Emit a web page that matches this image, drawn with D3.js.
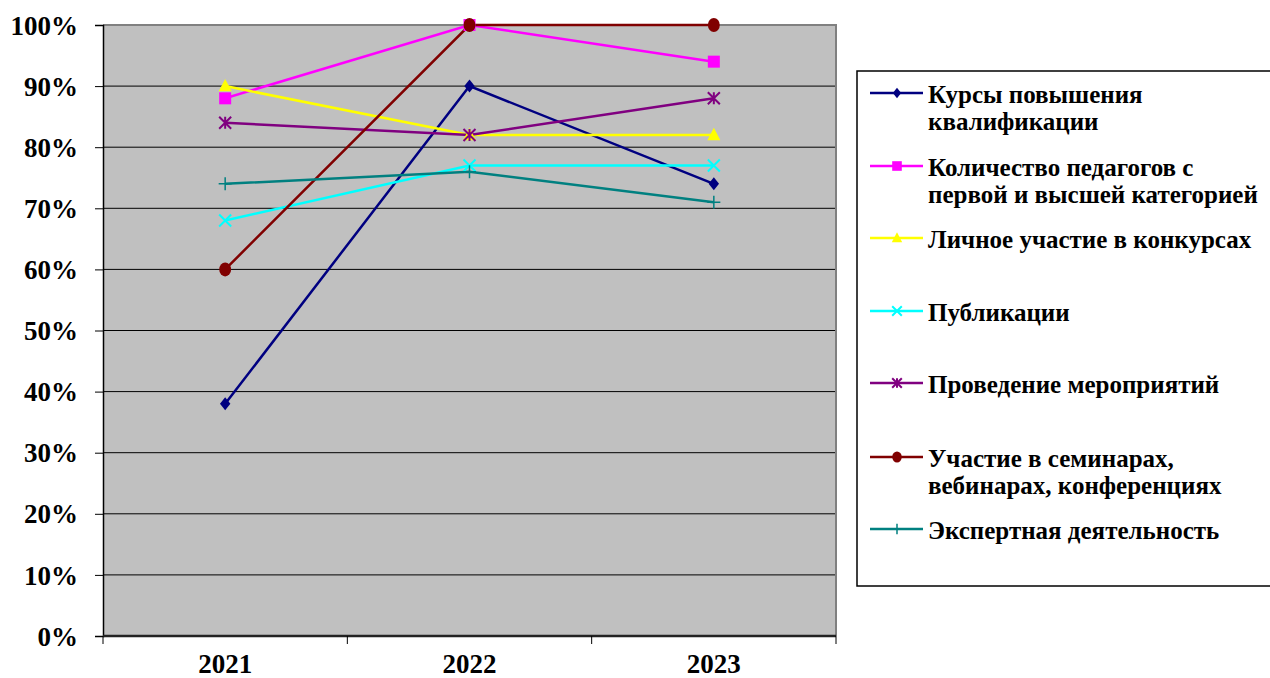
<!DOCTYPE html>
<html><head><meta charset="utf-8">
<script src="https://cdn.jsdelivr.net/npm/d3@7"></script>
</head><body style="margin:0;background:#fff">
<svg id="c" width="1270" height="678" style="display:block;font-family:'Liberation Serif'"></svg>
<script>
const categories = ["2021", "2022", "2023"];
const seriesNames = [
  "Курсы повышения квалификации",
  "Количество педагогов с первой и высшей категорией",
  "Личное участие в конкурсах",
  "Публикации",
  "Проведение мероприятий",
  "Участие в семинарах, вебинарах, конференциях",
  "Экспертная деятельность"
];
const kursy = [38, 90, 74];
const kolichestvo = [88, 100, 94];
const lichnoe = [90, 82, 82];
const publikacii = [68, 77, 77];
const provedenie = [84, 82, 88];
const uchastie = [60, 100, 100];
const ekspert = [74, 76, 71];
const yTicks = [0, 10, 20, 30, 40, 50, 60, 70, 80, 90, 100];
const legendLines = [
  ["Курсы повышения", "квалификации"],
  ["Количество педагогов с", "первой и высшей категорией"],
  ["Личное участие в конкурсах"],
  ["Публикации"],
  ["Проведение мероприятий"],
  ["Участие в семинарах,", "вебинарах, конференциях"],
  ["Экспертная деятельность"]
];
const colors = ["#000080", "#FF00FF", "#FFFF00", "#00FFFF", "#800080", "#800000", "#008080"];
const markers = ["diamond", "square", "triangle", "x", "asterisk", "circle", "plus"];
const values = [kursy, kolichestvo, lichnoe, publikacii, provedenie, uchastie, ekspert];

const svg = d3.select("#c");
const L = 103, R = 836, T = 25, B = 636;
const x = d3.scaleBand().domain(categories).range([L, R]);
const y = d3.scaleLinear().domain([0, 100]).range([B, T]);
function serif(sel, size) {
  sel.attr("font-family", "Liberation Serif").style("font-family", '"Liberation Serif"').style("font-weight", "bold").style("font-size", size + "px").style("fill", "#000");
}

svg.append("rect").attr("x", L).attr("y", T).attr("width", R - L).attr("height", B - T).attr("fill", "#C0C0C0");
svg.append("g").selectAll("line").data(yTicks.filter(d => d > 0 && d < 100)).join("line")
  .attr("x1", L).attr("x2", R).attr("y1", d => y(d)).attr("y2", d => y(d))
  .attr("stroke", "#000").attr("stroke-width", 1);
svg.append("path").attr("d", `M${L},${T}H${R}V${B}`).attr("fill", "none").attr("stroke", "#808080").attr("stroke-width", 2);

const yAxis = d3.axisLeft(y).tickValues(yTicks).tickFormat(d => d + "%").tickSize(8).tickPadding(17);
const gy = svg.append("g").attr("transform", `translate(${L},0)`).call(yAxis).attr("font-family", "Liberation Serif");
gy.select(".domain").attr("stroke", "#000").attr("stroke-width", 1.5);
gy.selectAll(".tick line").attr("stroke", "#000");
gy.selectAll("text").call(serif, 27).attr("dy", "0.34em");

const xAxis = d3.axisBottom(x).tickSize(0).tickPadding(0);
const gx = svg.append("g").attr("transform", `translate(0,${B})`).call(xAxis).attr("font-family", "Liberation Serif");
gx.select(".domain").remove();
gx.selectAll(".tick text").call(serif, 27).attr("dy", null).attr("y", 37);
svg.append("line").attr("x1", L).attr("x2", R).attr("y1", B).attr("y2", B).attr("stroke", "#222").attr("stroke-width", 2.5);
const bounds = [L].concat(categories.map(c => x(c) + x.bandwidth()));
svg.append("g").selectAll("line").data(bounds).join("line")
  .attr("x1", d => d).attr("x2", d => d).attr("y1", B).attr("y2", B + 8).attr("stroke", "#000");

function drawMarker(g, type, color, cx, cy, s) {
  if (type === "diamond") {
    g.append("path").attr("d", `M${cx},${cy - s}L${cx + s * 0.8},${cy}L${cx},${cy + s}L${cx - s * 0.8},${cy}Z`).attr("fill", color);
  } else if (type === "square") {
    g.append("rect").attr("x", cx - s).attr("y", cy - s).attr("width", 2 * s).attr("height", 2 * s).attr("fill", color);
  } else if (type === "triangle") {
    g.append("path").attr("d", `M${cx},${cy - s * 1.1}L${cx + s},${cy + s * 0.8}L${cx - s},${cy + s * 0.8}Z`).attr("fill", color);
  } else if (type === "x") {
    g.append("path").attr("d", `M${cx - s},${cy - s}L${cx + s},${cy + s}M${cx - s},${cy + s}L${cx + s},${cy - s}`).attr("stroke", color).attr("stroke-width", 2);
  } else if (type === "asterisk") {
    g.append("path").attr("d", `M${cx - s},${cy - s}L${cx + s},${cy + s}M${cx - s},${cy + s}L${cx + s},${cy - s}M${cx},${cy - s}L${cx},${cy + s}`).attr("stroke", color).attr("stroke-width", 2);
  } else if (type === "circle") {
    g.append("ellipse").attr("cx", cx).attr("cy", cy).attr("rx", s * 0.85).attr("ry", s).attr("fill", color);
  } else if (type === "plus") {
    g.append("path").attr("d", `M${cx - s},${cy}L${cx + s},${cy}M${cx},${cy - s}L${cx},${cy + s}`).attr("stroke", color).attr("stroke-width", 1.5);
  }
}
const msize = [6.5, 6, 6.5, 6, 6, 7, 6.5];
const cx = c => x(c) + x.bandwidth() / 2;
const line = d3.line().x((d, i) => cx(categories[i])).y(d => y(d));
const plot = svg.append("g");
values.forEach((vals, si) => {
  plot.append("path").datum(vals).attr("d", line).attr("fill", "none").attr("stroke", colors[si]).attr("stroke-width", 2.5);
});
values.forEach((vals, si) => {
  vals.forEach((v, i) => drawMarker(plot, markers[si], colors[si], cx(categories[i]), y(v), msize[si]));
});

const lg = svg.append("g");
lg.append("rect").attr("x", 857).attr("y", 71).attr("width", 430).attr("height", 515).attr("fill", "#fff").attr("stroke", "#000").attr("stroke-width", 1.5);
const legY = [93, 166, 238, 311, 383, 457, 529];
seriesNames.forEach((n, i) => {
  const yy = legY[i];
  lg.append("line").attr("x1", 870).attr("x2", 923).attr("y1", yy).attr("y2", yy).attr("stroke", colors[i]).attr("stroke-width", 2.5);
  drawMarker(lg, markers[i], colors[i], 897, yy, msize[i] * 0.8);
  const t = lg.append("text").call(serif, 25).attr("x", 928).attr("y", yy + 10);
  legendLines[i].forEach((s, k) => t.append("tspan").attr("x", 928).attr("dy", k === 0 ? 0 : 27).text(s));
});
</script>
</body></html>
